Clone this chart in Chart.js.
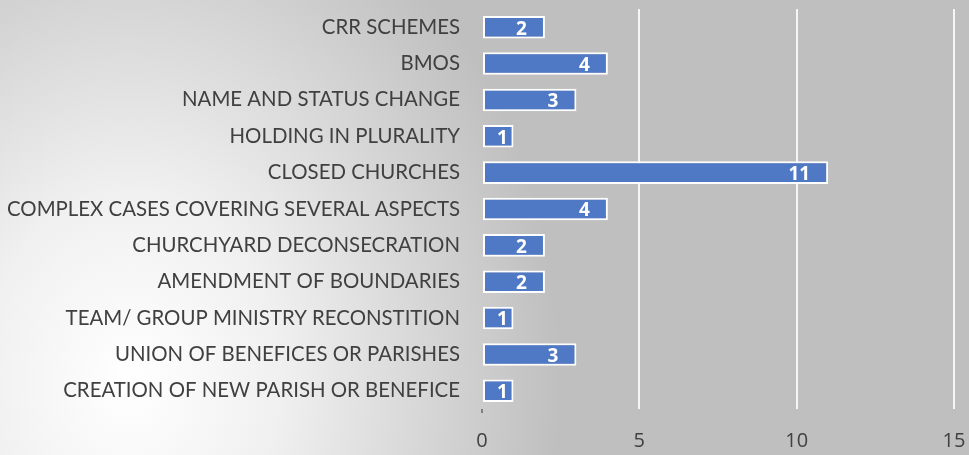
<!DOCTYPE html>
<html>
<head>
<meta charset="utf-8">
<script src="https://cdn.jsdelivr.net/npm/chart.js@4.4.0/dist/chart.umd.min.js"></script>
<style>
  html, body { margin: 0; padding: 0; }
  body {
    width: 969px; height: 455px; overflow: hidden;
    background-color: #bfbfbf;
    background-image: radial-gradient(ellipse 430px 540px at 130px 380px, #ffffff 0%, #f0f0f0 35%, #bfbfbf 100%);
  }
  canvas { display: block; }
</style>
</head>
<body>
<canvas id="chart" width="969" height="455"></canvas>
<script>
// categories, top to bottom
const categories = [
  'CRR SCHEMES',
  'BMOS',
  'NAME AND STATUS CHANGE',
  'HOLDING IN PLURALITY',
  'CLOSED CHURCHES',
  'COMPLEX CASES COVERING SEVERAL ASPECTS',
  'CHURCHYARD DECONSECRATION',
  'AMENDMENT OF BOUNDARIES',
  'TEAM/ GROUP MINISTRY RECONSTITION',
  'UNION OF BENEFICES OR PARISHES',
  'CREATION OF NEW PARISH OR BENEFICE'
];
const caseCounts = [2, 4, 3, 1, 11, 4, 2, 2, 1, 3, 1];
const xTicks = [0, 5, 10, 15];

// white bold numbers inside the bar end
const barLabels = {
  id: 'barLabels',
  afterDatasetsDraw(chart) {
    const ctx = chart.ctx;
    const meta = chart.getDatasetMeta(0);
    ctx.save();
    ctx.font = 'bold 19px "Open Sans", sans-serif';
    ctx.fillStyle = '#ffffff';
    ctx.textBaseline = 'middle';
    ctx.textAlign = 'left';
    meta.data.forEach((bar, i) => {
      const txt = String(caseCounts[i]);
      const w = ctx.measureText(txt).width;
      let left = bar.x - 18 - w;
      if (left < bar.base + 14) left = bar.base + 14;
      ctx.fillText(txt, left, bar.y + 2);
    });
    ctx.restore();
  }
};

new Chart(document.getElementById('chart'), {
  type: 'bar',
  data: {
    labels: categories,
    datasets: [{
      data: caseCounts,
      backgroundColor: '#4f79c5',
      borderColor: '#ffffff',
      borderWidth: 2,
      borderSkipped: false,
      categoryPercentage: 1,
      barPercentage: 0.62
    }]
  },
  options: {
    indexAxis: 'y',
    responsive: false,
    animation: false,
    layout: { padding: { top: 9, right: 15, bottom: 0, left: 0 } },
    plugins: { legend: { display: false }, tooltip: { enabled: false } },
    scales: {
      x: {
        min: 0, max: 15,
        afterBuildTicks: (axis) => { axis.ticks = xTicks.map(v => ({ value: v })); },
        afterFit: (axis) => {
          axis.height = 46;
          axis.paddingLeft = 0;
          axis.paddingRight = 0;
        },
        border: { display: false },
        grid: {
          color: (c) => c.tick && c.tick.value === 0 ? 'rgba(0,0,0,0)' : 'rgba(255,255,255,0.85)',
          lineWidth: 2,
          drawTicks: true,
          tickLength: 4,
          tickColor: (c) => c.tick && c.tick.value === 0 ? '#7f7f7f' : 'rgba(0,0,0,0)'
        },
        ticks: {
          color: '#404040',
          font: { family: '"Open Sans", sans-serif', size: 20 },
          padding: 16,
          maxRotation: 0
        }
      },
      y: {
        border: { display: false },
        grid: { display: false },
        afterFit: (axis) => {
          axis.width = 482;
          axis.paddingTop = 0;
          axis.paddingBottom = 0;
        },
        ticks: {
          color: '#404040',
          font: { family: 'Lato, sans-serif', size: 20.4 },
          padding: 14,
          autoSkip: false
        }
      }
    }
  },
  plugins: [barLabels]
});
</script>
</body>
</html>
